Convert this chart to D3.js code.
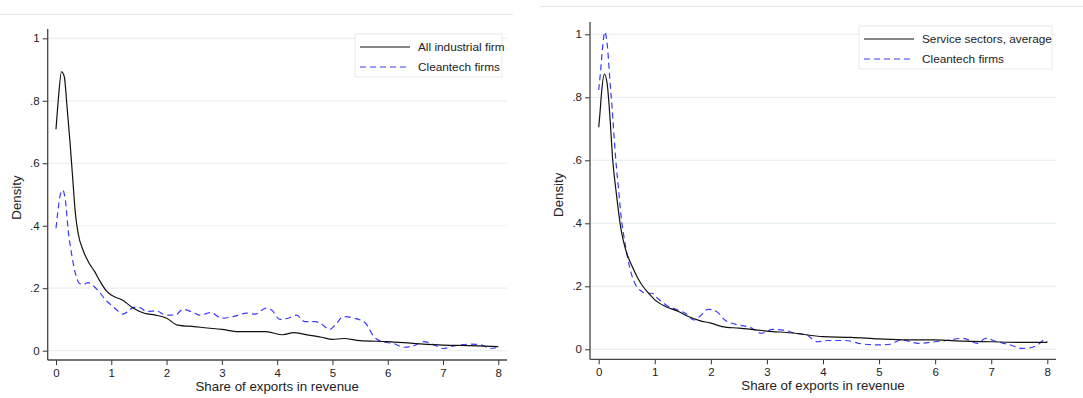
<!DOCTYPE html>
<html>
<head>
<meta charset="utf-8">
<script src="https://cdn.jsdelivr.net/npm/d3@7"></script>
<style>
  body { margin: 0; background: #fff; }
  svg { display: block; font-family: "Liberation Sans", Arial, sans-serif; }
</style>
</head>
<body>
<div id="main"></div>
<script>

// datas

const xTicks = [0, 1, 2, 3, 4, 5, 6, 7, 8];
const yTicks = [0, 0.2, 0.4, 0.6, 0.8, 1];
const yTickLabels = ['0', '.2', '.4', '.6', '.8', '1'];
const xTitle = 'Share of exports in revenue';
const yTitle = 'Density';

// left panel: industrial firms
const leftNames = ['All industrial firm', 'Cleantech firms'];
const leftSolid = [
    [0, 0.709], [0.04, 0.80], [0.1, 0.893], [0.15, 0.877], [0.2, 0.78], [0.25, 0.675],
    [0.3, 0.557], [0.35, 0.44], [0.4, 0.376], [0.5, 0.317], [0.6, 0.28], [0.7, 0.253],
    [0.8, 0.221], [0.9, 0.194], [1.0, 0.178], [1.2, 0.162], [1.4, 0.136], [1.6, 0.12],
    [1.8, 0.114], [2.0, 0.104], [2.2, 0.082], [2.5, 0.077], [3.0, 0.068], [3.3, 0.061],
    [3.8, 0.061], [4.1, 0.051], [4.3, 0.058], [4.5, 0.052], [4.8, 0.043], [5.0, 0.036],
    [5.2, 0.039], [5.5, 0.032], [6.0, 0.029], [6.5, 0.023], [7.0, 0.018], [7.5, 0.016],
    [8.0, 0.013]
];
const leftDashed = [
    [0, 0.392], [0.03, 0.44], [0.07, 0.493], [0.12, 0.514], [0.17, 0.482], [0.22, 0.386],
    [0.28, 0.312], [0.35, 0.248], [0.42, 0.216], [0.5, 0.212], [0.58, 0.218], [0.68, 0.207],
    [0.8, 0.184], [0.9, 0.162], [1.0, 0.146], [1.1, 0.130], [1.2, 0.117], [1.3, 0.125],
    [1.4, 0.139], [1.5, 0.139], [1.65, 0.125], [1.8, 0.128], [2.0, 0.114], [2.15, 0.114],
    [2.3, 0.132], [2.45, 0.125], [2.6, 0.114], [2.8, 0.122], [3.0, 0.104], [3.2, 0.109],
    [3.45, 0.12], [3.6, 0.117], [3.8, 0.136], [3.9, 0.130], [4.05, 0.100], [4.2, 0.104],
    [4.35, 0.114], [4.5, 0.093], [4.7, 0.093], [4.8, 0.085], [4.95, 0.068], [5.05, 0.082],
    [5.2, 0.109], [5.4, 0.104], [5.6, 0.088], [5.75, 0.045], [5.9, 0.029], [6.1, 0.023],
    [6.3, 0.011], [6.5, 0.018], [6.65, 0.029], [6.85, 0.018], [7.0, 0.007], [7.2, 0.015],
    [7.5, 0.021], [7.7, 0.018], [7.85, 0.007], [8.0, 0.011]
];

// right panel: service sectors
const rightNames = ['Service sectors, average', 'Cleantech firms'];
const rightSolid = [
    [0, 0.705], [0.02, 0.744], [0.05, 0.813], [0.1, 0.874], [0.15, 0.844], [0.2, 0.739],
    [0.25, 0.601], [0.3, 0.516], [0.35, 0.442], [0.4, 0.379], [0.45, 0.337], [0.5, 0.305],
    [0.6, 0.262], [0.7, 0.225], [0.8, 0.197], [0.9, 0.176], [1.0, 0.157], [1.2, 0.135],
    [1.4, 0.122], [1.6, 0.104], [1.8, 0.091], [2.0, 0.083], [2.2, 0.072], [2.5, 0.067],
    [3.0, 0.058], [3.5, 0.051], [4.0, 0.040], [4.5, 0.038], [5.0, 0.033], [5.5, 0.030],
    [6.0, 0.030], [6.5, 0.026], [7.0, 0.024], [7.5, 0.022], [8.0, 0.022]
];
const rightDashed = [
    [0, 0.823], [0.03, 0.876], [0.07, 0.96], [0.11, 1.008], [0.15, 0.971], [0.2, 0.855],
    [0.25, 0.739], [0.3, 0.612], [0.35, 0.516], [0.4, 0.421], [0.45, 0.358], [0.5, 0.305],
    [0.58, 0.241], [0.66, 0.204], [0.75, 0.186], [0.85, 0.178], [0.95, 0.178], [1.05, 0.162],
    [1.2, 0.141], [1.4, 0.125], [1.55, 0.114], [1.7, 0.093], [1.8, 0.104], [1.95, 0.127],
    [2.1, 0.120], [2.25, 0.093], [2.5, 0.077], [2.7, 0.070], [2.9, 0.051], [3.1, 0.063],
    [3.3, 0.061], [3.5, 0.051], [3.7, 0.046], [3.9, 0.024], [4.1, 0.028], [4.4, 0.028],
    [4.7, 0.017], [5.0, 0.014], [5.2, 0.016], [5.4, 0.030], [5.7, 0.019], [6.0, 0.024],
    [6.2, 0.028], [6.5, 0.035], [6.75, 0.019], [6.9, 0.035], [7.1, 0.024], [7.3, 0.016],
    [7.55, 0.003], [7.7, 0.005], [7.85, 0.017], [7.95, 0.030], [8.0, 0.024]
];

const w = 1083;
const h = 398;

// svg

const svg = d3.select('#main').append('svg').attr('width', w).attr('height', h);

// frames of the two figures
svg.append('line').attr('x1', 0).attr('x2', 513).attr('y1', 14.5).attr('y2', 14.5)
    .attr('stroke', '#e3e9ea').attr('stroke-width', 1);
svg.append('line').attr('x1', 540).attr('x2', 1083).attr('y1', 6.5).attr('y2', 6.5)
    .attr('stroke', '#e3e9ea').attr('stroke-width', 1);


function panel(p) {
    const x = d3.scaleLinear().domain([0, 8]).range([p.x0, p.x8]);
    const y = d3.scaleLinear().domain([0, 1]).range([p.y0, p.y1]);
    const g = svg.append('g');

    // grid
    g.selectAll('.grid')
        .data(yTicks)
        .enter()
        .append('line')
        .attr('x1', p.axisX).attr('x2', p.right)
        .attr('y1', d => y(d)).attr('y2', d => y(d))
        .attr('stroke', '#e8f0f1').attr('stroke-width', 1.2);

    // y axis
    const yAxis = d3.axisLeft(y).tickValues(yTicks).tickSize(5).tickPadding(3)
        .tickFormat((d, i) => yTickLabels[i]);
    const ga = g.append('g').attr('transform', `translate(${p.axisX},0)`).call(yAxis);
    ga.select('.domain').remove();

    // x axis
    const xAxis = d3.axisBottom(x).tickValues(xTicks).tickSize(5).tickPadding(4)
        .tickFormat(d3.format('d'));
    const gx = g.append('g').attr('transform', `translate(0,${p.axisY})`).call(xAxis);
    gx.select('.domain').remove();

    [ga, gx].forEach(a => {
        a.selectAll('line').attr('stroke', '#333');
        a.selectAll('text').attr('fill', '#222').style('font-size', '11.5px')
            .style('font-family', '"Liberation Sans", Arial, sans-serif');
    });

    g.append('line').attr('x1', p.axisX).attr('x2', p.axisX).attr('y1', p.top).attr('y2', p.axisY)
        .attr('stroke', '#444').attr('stroke-width', 1.3);
    g.append('line').attr('x1', p.axisX).attr('x2', p.right).attr('y1', p.axisY).attr('y2', p.axisY)
        .attr('stroke', '#444').attr('stroke-width', 1.3);

    // titles
    g.append('text')
        .attr('x', (p.x0 + p.x8) / 2).attr('y', p.axisY + 31)
        .attr('text-anchor', 'middle').attr('fill', '#222')
        .style('font-size', '13.3px').text(xTitle);
    g.append('text')
        .attr('transform', `translate(${p.axisX - 27},${(p.y0 + p.y1) / 2 + 3}) rotate(-90)`)
        .attr('text-anchor', 'middle').attr('fill', '#222')
        .style('font-size', '13.3px').text(yTitle);

    // lines
    const line = d3.line().x(d => x(d[0])).y(d => y(d[1])).curve(d3.curveMonotoneX);
    g.append('path').datum(p.dashed).attr('d', line)
        .attr('fill', 'none').attr('stroke', '#3a3aff').attr('stroke-width', 1.2)
        .attr('stroke-dasharray', '6,4');
    g.append('path').datum(p.solid).attr('d', line)
        .attr('fill', 'none').attr('stroke', '#111').attr('stroke-width', 1.2);

    // legend
    const lg = g.append('g').attr('transform', `translate(${p.legX},${p.legY})`);
    lg.append('rect').attr('width', p.legW).attr('height', 43)
        .attr('fill', '#fff').attr('stroke', '#e4ecec').attr('stroke-width', 1);
    const items = [
        { name: p.names[0], stroke: '#111', dash: null },
        { name: p.names[1], stroke: '#3a3aff', dash: '6,4' }
    ];
    items.forEach((it, i) => {
        const yy = 13 + i * 20;
        lg.append('line').attr('x1', 5).attr('x2', 55).attr('y1', yy).attr('y2', yy)
            .attr('stroke', it.stroke).attr('stroke-width', 1.2)
            .attr('stroke-dasharray', it.dash);
        lg.append('text').attr('x', 63).attr('y', yy + 4)
            .attr('fill', '#222').style('font-size', '11.8px').text(it.name);
    });
}

panel({
    x0: 56, x8: 498.3, y0: 350.7, y1: 38.3,
    axisX: 47.7, axisY: 360, top: 29, right: 507,
    legX: 355, legY: 34, legW: 147,
    names: leftNames, solid: leftSolid, dashed: leftDashed
});

panel({
    x0: 598.7, x8: 1047.3, y0: 349.3, y1: 34.3,
    axisX: 590, axisY: 359.3, top: 22, right: 1056,
    legX: 859, legY: 26, legW: 193,
    names: rightNames, solid: rightSolid, dashed: rightDashed
});

</script>
</body>
</html>
